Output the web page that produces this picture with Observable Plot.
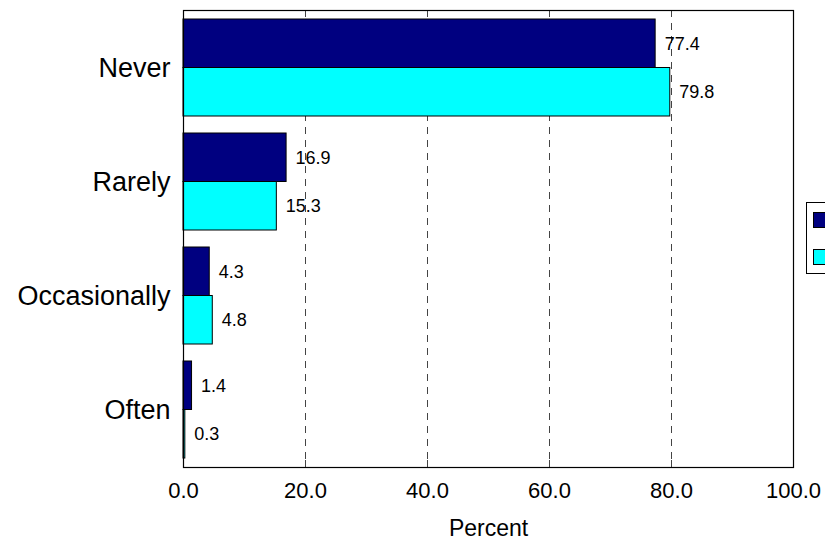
<!DOCTYPE html>
<html>
<head>
<meta charset="utf-8">
<script src="https://cdn.jsdelivr.net/npm/d3@7"></script>
<script src="https://cdn.jsdelivr.net/npm/@observablehq/plot@0.6"></script>
<style>
  html, body { margin: 0; padding: 0; background: #fff; overflow: hidden; }
  #wrap { position: relative; width: 825px; height: 542px; }
  #legend { position: absolute; left: 806px; top: 202px; width: 80px; height: 72px;
            border: 1px solid #000; box-sizing: border-box; background: #fff; }
  .sw { position: absolute; left: 6px; width: 16px; height: 16px; border: 1px solid #000; box-sizing: border-box; }
</style>
</head>
<body>
<div id="wrap"><div id="legend"></div></div>
<script>
const categories = ["Never", "Rarely", "Occasionally", "Often"];
const seriesA = [77.4, 16.9, 4.3, 1.4];
const seriesB = [79.8, 15.3, 4.8, 0.3];
const seriesColors = ["#000080", "#00ffff"];
const xTicks = [0, 20, 40, 60, 80, 100];
const gridTicks = [20, 40, 60, 80];

const dataA = categories.map((c, i) => ({category: c, value: seriesA[i]}));
const dataB = categories.map((c, i) => ({category: c, value: seriesB[i]}));

const font = "'Liberation Sans', Arial, Helvetica, sans-serif";
const half = 48.5;

const chart = Plot.plot({
  width: 825,
  height: 542,
  marginLeft: 183,
  marginRight: 32,
  marginTop: 10,
  marginBottom: 75,
  style: {fontFamily: font, background: "white", color: "black"},
  x: {domain: [0, 100]},
  y: {domain: categories, paddingInner: 0.15, paddingOuter: 0.075},
  marks: [
    Plot.ruleX(gridTicks, {x: d => d, stroke: "#444", strokeWidth: 1, strokeDasharray: "7,6"}),
    Plot.ruleX(gridTicks, {x: d => d, stroke: "#444", strokeWidth: 1, insetBottom: 450}),
    Plot.ruleX(gridTicks, {x: d => d, stroke: "#444", strokeWidth: 1, insetTop: 450}),
    Plot.barX(dataA, {x: "value", y: "category", fill: seriesColors[0], stroke: "black", strokeWidth: 1, insetBottom: half}),
    Plot.barX(dataB, {x: "value", y: "category", fill: seriesColors[1], stroke: "black", strokeWidth: 1, insetTop: half}),
    Plot.text(dataA, {x: "value", y: "category", text: d => d.value.toFixed(1), dx: 9, dy: -24, textAnchor: "start", fontSize: 18, fill: "black"}),
    Plot.text(dataB, {x: "value", y: "category", text: d => d.value.toFixed(1), dx: 9, dy: 24, textAnchor: "start", fontSize: 18, fill: "black"}),
    Plot.axisX(xTicks, {anchor: "bottom", tickSize: 0, tickPadding: 15, fontSize: 22, tickFormat: d => d.toFixed(1), label: null}),
    Plot.axisY({anchor: "left", tickSize: 0, tickPadding: 13, fontSize: 27, label: null}),
    Plot.text(["Percent"], {frameAnchor: "bottom", dy: 68, lineAnchor: "bottom", fontSize: 23, fill: "black"}),
    Plot.frame({stroke: "black", strokeWidth: 1.2})
  ]
});
document.getElementById("wrap").prepend(chart);

const legend = document.getElementById("legend");
seriesColors.forEach((c, i) => {
  const s = document.createElement("div");
  s.className = "sw";
  s.style.top = (i === 0 ? 9 : 46) + "px";
  s.style.background = c;
  legend.appendChild(s);
});
</script>
</body>
</html>
